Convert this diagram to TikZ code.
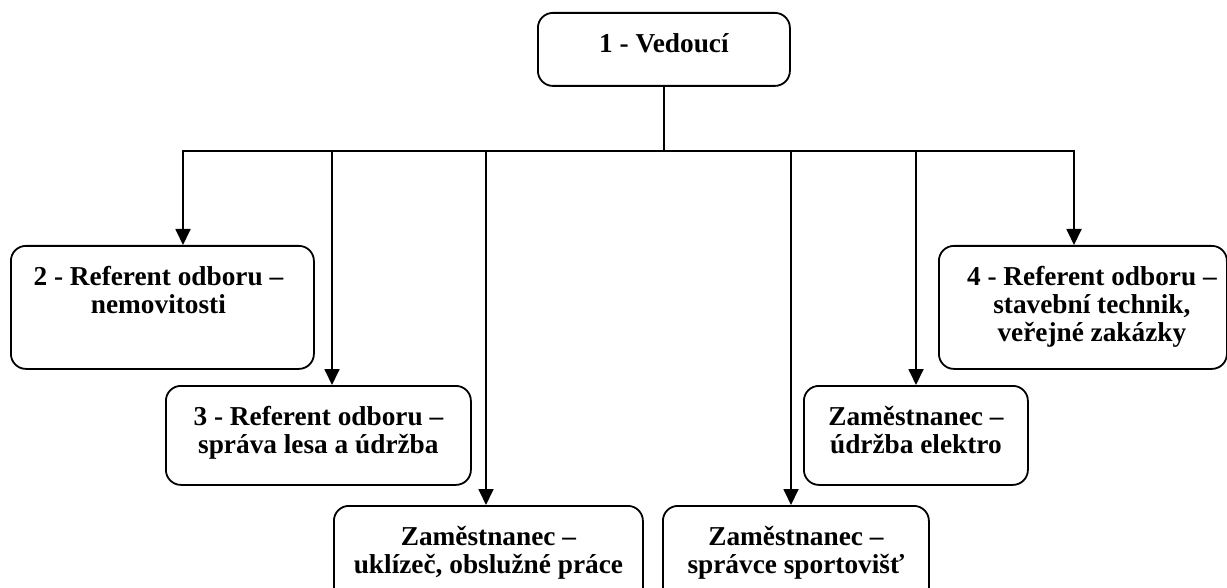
\documentclass[tikz,border=0pt]{standalone}
\usepackage{fontspec}
\setmainfont{Liberation Serif}
\usetikzlibrary{arrows.meta}
% fixed height for the first line of every label, so all baselines line up
\newcommand\lnstrut{\rule{0pt}{20pt}}
\begin{document}
\begin{tikzpicture}[x=1pt,y=-1pt,
  box/.style={draw, line width=1.8pt, rounded corners=15pt, inner sep=0pt, anchor=north west},
  lbl/.style={font=\fontsize{27.3pt}{28pt}\selectfont\bfseries, align=center,
              anchor=north, inner sep=0pt, yshift=-20pt},
  wire/.style={line width=1.8pt, line cap=rect},
  arr/.style={line width=1.8pt, -{Triangle[length=16pt,width=15pt]}}]
\useasboundingbox (0,0) rectangle (1227,588);
\clip (0,0) rectangle (1227,588);

% boxes
\node[box, minimum width=252pt, minimum height=73pt]  (n1) at (537,12)  {};
\node[box, minimum width=303pt, minimum height=123pt] (n2) at (10,245)  {};
\node[box, minimum width=305pt, minimum height=99pt]  (n3) at (165,385) {};
\node[box, minimum width=309pt, minimum height=110pt] (n5) at (333,505) {};
\node[box, minimum width=266pt, minimum height=110pt] (n6) at (662,505) {};
\node[box, minimum width=224pt, minimum height=99pt]  (n7) at (803,385) {};
\node[box, minimum width=288pt, minimum height=123pt] (n4) at (938,245) {};

% labels
\node[lbl] (t1) at (n1.north) {\lnstrut 1 - Vedoucí};
\node[lbl] (t2) at ([xshift=-4pt]n2.north) {\lnstrut 2 - Referent odboru –\\ nemovitosti};
\node[lbl] (t3) at (n3.north) {\lnstrut 3 - Referent odboru –\\ správa lesa a údržba};
\node[lbl] (t5) at (n5.north) {\lnstrut Zaměstnanec –\\ uklízeč, obslužné práce};
\node[lbl] (t6) at (n6.north) {\lnstrut Zaměstnanec –\\ správce sportovišť};
\node[lbl] (t7) at (n7.north) {\lnstrut Zaměstnanec –\\ údržba elektro};
\node[lbl] (t4) at ([xshift=9pt]n4.north) {\lnstrut 4 - Referent odboru –\\ stavební technik,\\ veřejné zakázky};

% distribution bus
\coordinate (b2) at (183,151);
\coordinate (b3) at (332,151);
\coordinate (b5) at (486,151);
\coordinate (b6) at (791,151);
\coordinate (b7) at (916,151);
\coordinate (b4) at (1074,151);

\draw[wire] (n1.south) -- (n1.south |- b2);
\draw[wire] (b2) -- (b4);

% branches
\draw[arr] (b2) -- (b2 |- n2.north);
\draw[arr] (b3) -- (b3 |- n3.north);
\draw[arr] (b5) -- (b5 |- n5.north);
\draw[arr] (b6) -- (b6 |- n6.north);
\draw[arr] (b7) -- (b7 |- n7.north);
\draw[arr] (b4) -- (b4 |- n4.north);
\end{tikzpicture}
\end{document}
